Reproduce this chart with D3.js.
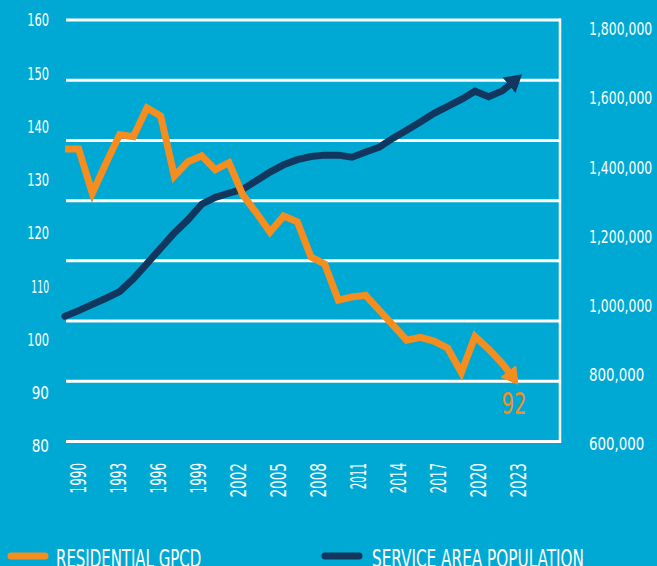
<!DOCTYPE html>
<html>
<head>
<meta charset="utf-8">
<script src="https://cdn.jsdelivr.net/npm/d3@7"></script>
<style>
  html, body { margin: 0; padding: 0; background: #00a9d4; }
  svg { display: block; }
  text { font-family: "Liberation Sans Narrow", "DejaVu Sans Condensed", "DejaVu Sans", sans-serif; fill: #fff; }
</style>
</head>
<body>
<div id="chart"></div>
<script>
const years = [1990, 1991, 1992, 1993, 1994, 1995, 1996, 1997, 1998, 1999,
  2000, 2001, 2002, 2003, 2004, 2005, 2006, 2007, 2008, 2009,
  2010, 2011, 2012, 2013, 2014, 2015, 2016, 2017, 2018, 2019,
  2020, 2021, 2022, 2023]

// residential gallons per capita per day
const gpcd = [135.7, 135.7, 127.4, 133, 138.4, 138.0, 143.4, 141.9, 130.6, 133.3,
  134.4, 131.8, 133.1, 127.1, 123.7, 120.1, 123.1, 122.0, 115.4, 114.1,
  107.3, 107.9, 108.2, 105.4, 102.6, 99.8, 100.3, 99.6, 98.3, 93.7,
  100.5, 98.1, 95.4, 92]

const population = [967000, 983000, 1001000, 1019000, 1038000, 1075000, 1119000, 1164000, 1208000, 1246000,
  1291000, 1311000, 1323000, 1334000, 1359000, 1384000, 1405000, 1420000, 1429000, 1433000,
  1433000, 1427000, 1442000, 1456000, 1482000, 1505000, 1529000, 1554000, 1574000, 1594000,
  1618000, 1602000, 1619000, 1652000]

const yearTicks = [1990, 1993, 1996, 1999, 2002, 2005, 2008, 2011, 2014, 2017, 2020, 2023]
const gpcdTicks = [80, 90, 100, 110, 120, 130, 140, 150, 160]
const popTicks = [600000, 800000, 1000000, 1200000, 1400000, 1600000, 1800000]

const legendItems = ["RESIDENTIAL GPCD", "SERVICE AREA POPULATION"]

const W = 657, H = 566
const ORANGE = "#f68d1f", NAVY = "#12375e"

const svg = d3.select("#chart").append("svg").attr("width", W).attr("height", H)
svg.append("rect").attr("width", W).attr("height", H).attr("fill", "#00a9d4")

// the original face is a tall condensed one with a narrow "1";
// fit every text to the width it would have in that face
const glyphW = ch => ch === "1" ? 0.25 : /[0-9]/.test(ch) ? 0.48 : ch === "," ? 0.19
  : ch === "I" ? 0.13 : ch === " " ? 0.2 : 0.43
const fit = (sel, em) => sel.each(function () {
  const w = d3.sum(this.textContent.split(""), glyphW) * em
  d3.select(this).attr("textLength", w).attr("lengthAdjust", "spacingAndGlyphs")
})

// SCALES ----------------------
const x = d3.scaleLinear().domain([1990, 2023]).range([65, 516])
const xLabel = d3.scaleLinear().domain([1990, 2023]).range([78, 518])
const yLeft = d3.scaleLinear().domain([80, 160]).range([445.5, 19.5])
const yRight = d3.scaleLinear().domain([600000, 1800000]).range([443, 28.3])
const gridY = d3.scaleLinear().domain([0, 7]).range([441.5, 20])

// GRID ------------------------
svg.append("g")
  .selectAll("line")
  .data(d3.range(8))
  .join("line")
  .attr("x1", 66).attr("x2", 561)
  .attr("y1", d => gridY(d)).attr("y2", d => gridY(d))
  .attr("stroke", "#fff").attr("stroke-width", 3)

svg.append("line")
  .attr("x1", 560).attr("x2", 560)
  .attr("y1", gridY(7) - 1.5).attr("y2", gridY(0) + 1.5)
  .attr("stroke", "#fff").attr("stroke-width", 2.5)

// AXES ------------------------
const gLeft = svg.append("g").attr("transform", "translate(49,0)")
  .call(d3.axisLeft(yLeft).tickValues(gpcdTicks).tickSize(0).tickPadding(0))
gLeft.select(".domain").remove()
gLeft.selectAll("text").attr("fill", "#fff").style("font-size", "18px").attr("dy", "0.36em")
fit(gLeft.selectAll("text"), 18)

const gRight = svg.append("g").attr("transform", "translate(589,0)")
  .call(d3.axisRight(yRight).tickValues(popTicks).tickSize(0).tickPadding(0).tickFormat(d3.format(",")))
gRight.select(".domain").remove()
gRight.selectAll("text").attr("fill", "#fff").style("font-size", "18px").attr("dy", "0.36em")
fit(gRight.selectAll("text"), 18)

const yearText = svg.append("g").selectAll("text")
  .data(yearTicks)
  .join("text")
  .attr("transform", d => `translate(${xLabel(d)},463) rotate(-90)`)
  .attr("text-anchor", "end")
  .attr("dy", "0.36em")
  .style("font-size", "21px")
  .text(d => d)
fit(yearText, 18)

// ARROWHEADS ------------------
const defs = svg.append("defs")
const marker = (id, color, refX) => defs.append("marker")
  .attr("id", id)
  .attr("viewBox", "0 -10 17 20")
  .attr("refX", refX).attr("refY", 0)
  .attr("markerWidth", 17).attr("markerHeight", 20)
  .attr("markerUnits", "userSpaceOnUse")
  .attr("orient", "auto")
  .append("path").attr("d", "M0,-10L17,0L0,10Z").attr("fill", color)
marker("arrow-navy", NAVY, 9)
marker("arrow-orange", ORANGE, 13)

// LINES -----------------------
const popLine = d3.line().x((d, i) => x(years[i])).y(d => yRight(d))
const gpcdLine = d3.line().x((d, i) => x(years[i])).y(d => yLeft(d))

svg.append("path")
  .datum(population)
  .attr("d", popLine)
  .attr("fill", "none")
  .attr("stroke", NAVY).attr("stroke-width", 7)
  .attr("stroke-linecap", "round").attr("stroke-linejoin", "miter")
  .attr("marker-end", "url(#arrow-navy)")

svg.append("path")
  .datum(gpcd)
  .attr("d", gpcdLine)
  .attr("fill", "none")
  .attr("stroke", ORANGE).attr("stroke-width", 7)
  .attr("stroke-linecap", "butt").attr("stroke-linejoin", "miter")
  .attr("marker-end", "url(#arrow-orange)")

// end value
const lastGpcd = gpcd[gpcd.length - 1]
const endLabel = svg.append("text")
  .attr("x", x(2023) - 2)
  .attr("y", 414)
  .attr("text-anchor", "middle")
  .style("font-size", "31px")
  .style("fill", ORANGE)
  .text(lastGpcd)
fit(endLabel, 26)

// LEGEND ----------------------
const legendX = [8, 322]
const legendColors = [ORANGE, NAVY]
const legend = svg.append("g").selectAll("g")
  .data(legendItems)
  .join("g")
  .attr("transform", (d, i) => `translate(${legendX[i]},0)`)
legend.append("line")
  .attr("x1", 3).attr("x2", 37).attr("y1", 556).attr("y2", 556)
  .attr("stroke", (d, i) => legendColors[i])
  .attr("stroke-width", 7).attr("stroke-linecap", "round")
const legendText = legend.append("text")
  .attr("x", (d, i) => i === 0 ? 48 : 50)
  .attr("y", 567)
  .style("font-size", "24px")
  .text(d => d)
fit(legendText, 24)
</script>
</body>
</html>
